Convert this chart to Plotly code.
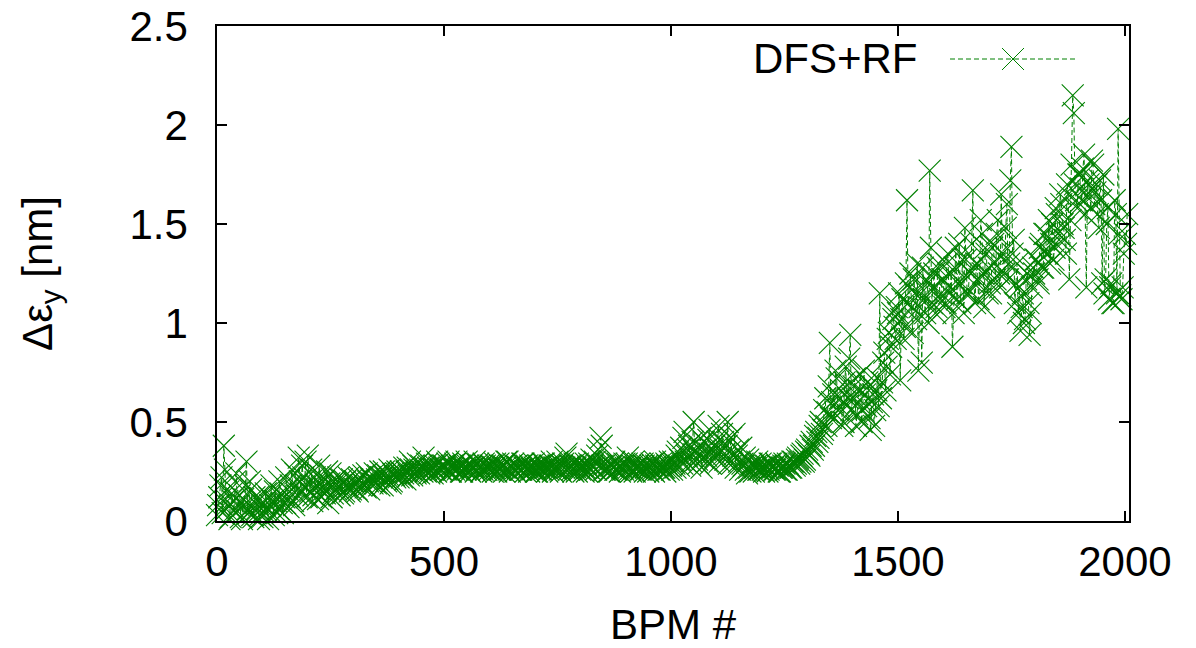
import plotly.graph_objects as go

# BPM spacing of the sampled points; two interleaved samplings (offset half a step)
bpm_step = 5
bpm_offset_b = 2.5

# Emittance growth (nm), sampling A (BPM 0, 5, 10, ...), 20 values per 100 BPMs
dey_a_0000_0495 = [
    0.03, 0.12, 0.22, 0.38, 0.06, 0.15, 0.02, 0.10, 0.20, 0.05, 0.13, 0.01, 0.08, 0.30, 0.04, 0.16, 0.02, 0.09, 0.12, 0.03,
    0.02, 0.08, 0.05, 0.12, 0.18, 0.03, 0.10, 0.06, 0.14, 0.04, 0.09, 0.16, 0.12, 0.26, 0.08, 0.18, 0.32, 0.14, 0.22, 0.30,
    0.33, 0.15, 0.10, 0.22, 0.18, 0.28, 0.12, 0.20, 0.16, 0.09, 0.24, 0.14, 0.19, 0.17, 0.13, 0.21, 0.15, 0.18, 0.22, 0.16,
    0.17, 0.20, 0.15, 0.22, 0.19, 0.18, 0.24, 0.16, 0.21, 0.20, 0.19, 0.23, 0.25, 0.18, 0.22, 0.21, 0.26, 0.20, 0.23, 0.24,
    0.22, 0.25, 0.24, 0.21, 0.27, 0.30, 0.23, 0.26, 0.25, 0.24, 0.28, 0.32, 0.25, 0.27, 0.26, 0.24, 0.28, 0.30, 0.27, 0.26,
]
dey_a_0500_0995 = [
    0.28, 0.26, 0.30, 0.25, 0.27, 0.29, 0.26, 0.28, 0.25, 0.27, 0.30, 0.26, 0.28, 0.27, 0.25, 0.29, 0.27, 0.26, 0.28, 0.27,
    0.26, 0.28, 0.27, 0.25, 0.29, 0.26, 0.28, 0.27, 0.30, 0.25, 0.27, 0.26, 0.28, 0.27, 0.26, 0.29, 0.25, 0.27, 0.28, 0.26,
    0.27, 0.25, 0.28, 0.26, 0.29, 0.27, 0.26, 0.28, 0.25, 0.27, 0.30, 0.26, 0.28, 0.27, 0.34, 0.26, 0.28, 0.25, 0.27, 0.29,
    0.26, 0.28, 0.27, 0.25, 0.29, 0.31, 0.27, 0.26, 0.36, 0.42, 0.28, 0.26, 0.27, 0.25, 0.28, 0.30, 0.26, 0.27, 0.28, 0.26,
    0.27, 0.32, 0.26, 0.28, 0.25, 0.27, 0.29, 0.26, 0.28, 0.27, 0.25, 0.28, 0.26, 0.30, 0.27, 0.26, 0.28, 0.27, 0.29, 0.26,
]
dey_a_1000_1495 = [
    0.28, 0.30, 0.27, 0.35, 0.31, 0.29, 0.45, 0.33, 0.38, 0.30, 0.50, 0.34, 0.29, 0.42, 0.32, 0.36, 0.30, 0.46, 0.34, 0.38,
    0.33, 0.48, 0.36, 0.40, 0.31, 0.50, 0.35, 0.29, 0.44, 0.33, 0.30, 0.37, 0.28, 0.26, 0.31, 0.25, 0.28, 0.27, 0.30, 0.26,
    0.27, 0.25, 0.28, 0.26, 0.29, 0.27, 0.26, 0.28, 0.25, 0.27, 0.29, 0.26, 0.28, 0.27, 0.30, 0.29, 0.32, 0.30, 0.34, 0.31,
    0.36, 0.33, 0.40, 0.38, 0.45, 0.42, 0.50, 0.46, 0.62, 0.55, 0.90, 0.60, 0.52, 0.72, 0.58, 0.66, 0.50, 0.78, 0.62, 0.94,
    0.62, 0.72, 0.54, 0.66, 0.50, 0.76, 0.58, 0.68, 0.46, 0.64, 0.56, 0.72, 1.15, 0.70, 0.85, 0.78, 0.95, 0.88, 1.02, 0.92,
]
dey_a_1500_2005 = [
    1.05, 0.71, 1.12, 0.98, 1.62, 1.18, 1.08, 1.22, 1.02, 0.76, 1.15, 1.28, 1.05, 1.20, 1.77, 1.10, 1.25, 1.08, 1.30, 1.15,
    1.22, 1.10, 1.35, 1.18, 0.88, 1.28, 1.12, 1.40, 1.20, 1.05, 1.32, 1.15, 1.25, 1.67, 1.10, 1.30, 1.22, 1.45, 1.08, 1.35,
    1.28, 1.15, 1.40, 1.22, 1.52, 1.18, 1.35, 1.25, 1.60, 1.30, 1.89, 1.42, 1.20, 1.05, 0.96, 1.15, 1.02, 1.25, 0.94, 1.18,
    1.25, 1.32, 1.20, 1.40, 1.28, 1.45, 1.35, 1.30, 1.50, 1.38, 1.55, 1.42, 1.60, 1.48, 1.35, 1.65, 1.52, 2.15, 1.70, 1.58,
    1.75, 1.62, 1.85, 1.18, 1.70, 1.58, 1.80, 1.66, 1.55, 1.72, 1.20, 1.15, 1.50, 1.12, 1.20, 1.10, 1.55, 1.98, 1.14, 1.18,
    1.45, 1.55,
]

# Sampling B (BPM 2.5, 7.5, 12.5, ...)
dey_b_0000_0495 = [
    0.08, 0.18, 0.04, 0.26, 0.10, 0.01, 0.14, 0.05, 0.24, 0.08, 0.02, 0.11, 0.18, 0.06, 0.20, 0.03, 0.12, 0.06, 0.01, 0.09,
    0.05, 0.14, 0.01, 0.08, 0.10, 0.15, 0.04, 0.20, 0.09, 0.12, 0.22, 0.07, 0.18, 0.10, 0.24, 0.13, 0.20, 0.28, 0.17, 0.12,
    0.20, 0.26, 0.13, 0.18, 0.11, 0.23, 0.17, 0.14, 0.25, 0.19, 0.12, 0.20, 0.16, 0.22, 0.18, 0.14, 0.20, 0.17, 0.15, 0.21,
    0.19, 0.16, 0.21, 0.18, 0.23, 0.17, 0.20, 0.22, 0.19, 0.24, 0.21, 0.18, 0.22, 0.25, 0.20, 0.23, 0.19, 0.24, 0.22, 0.25,
    0.24, 0.22, 0.27, 0.25, 0.23, 0.26, 0.28, 0.24, 0.29, 0.26, 0.25, 0.27, 0.29, 0.24, 0.28, 0.27, 0.25, 0.29, 0.26, 0.28,
]
dey_b_0500_0995 = [
    0.27, 0.29, 0.25, 0.28, 0.26, 0.30, 0.27, 0.25, 0.29, 0.26, 0.28, 0.25, 0.27, 0.30, 0.26, 0.28, 0.25, 0.29, 0.26, 0.28,
    0.28, 0.25, 0.29, 0.27, 0.26, 0.28, 0.25, 0.30, 0.26, 0.28, 0.29, 0.25, 0.27, 0.26, 0.29, 0.27, 0.28, 0.25, 0.27, 0.29,
    0.25, 0.28, 0.26, 0.29, 0.27, 0.25, 0.28, 0.30, 0.27, 0.26, 0.28, 0.25, 0.29, 0.32, 0.27, 0.28, 0.26, 0.29, 0.25, 0.27,
    0.28, 0.25, 0.29, 0.27, 0.26, 0.28, 0.30, 0.33, 0.28, 0.38, 0.26, 0.29, 0.25, 0.28, 0.27, 0.26, 0.29, 0.25, 0.27, 0.29,
    0.29, 0.27, 0.25, 0.30, 0.27, 0.28, 0.26, 0.29, 0.25, 0.28, 0.27, 0.29, 0.25, 0.28, 0.26, 0.29, 0.27, 0.25, 0.28, 0.30,
]
dey_b_1000_1495 = [
    0.26, 0.29, 0.33, 0.28, 0.37, 0.42, 0.30, 0.36, 0.28, 0.40, 0.35, 0.31, 0.38, 0.27, 0.40, 0.33, 0.41, 0.29, 0.36, 0.32,
    0.40, 0.30, 0.44, 0.34, 0.38, 0.29, 0.42, 0.33, 0.27, 0.36, 0.26, 0.29, 0.32, 0.24, 0.27, 0.29, 0.25, 0.28, 0.26, 0.29,
    0.26, 0.28, 0.25, 0.29, 0.27, 0.26, 0.29, 0.25, 0.27, 0.28, 0.26, 0.29, 0.27, 0.30, 0.28, 0.31, 0.29, 0.33, 0.30, 0.35,
    0.34, 0.38, 0.36, 0.43, 0.40, 0.48, 0.44, 0.56, 0.48, 0.68, 0.52, 0.64, 0.76, 0.56, 0.62, 0.48, 0.70, 0.58, 0.82, 0.56,
    0.68, 0.48, 0.60, 0.74, 0.56, 0.64, 0.70, 0.52, 0.60, 0.48, 0.66, 0.58, 0.62, 0.80, 0.66, 0.92, 0.74, 1.05, 0.98, 1.08,
]
dey_b_1500_2005 = [
    1.15, 1.02, 0.92, 1.20, 1.10, 1.25, 0.95, 1.15, 1.30, 1.08, 0.80, 1.12, 1.22, 1.00, 1.38, 1.18, 1.05, 1.28, 1.12, 1.22,
    1.08, 1.30, 1.15, 1.25, 1.05, 1.38, 1.20, 1.10, 1.32, 1.48, 1.15, 1.26, 1.40, 1.20, 1.30, 1.12, 1.52, 1.25, 1.38, 1.15,
    1.20, 1.38, 1.30, 1.45, 1.25, 1.65, 1.32, 1.48, 1.22, 1.72, 1.35, 1.10, 1.30, 1.18, 1.08, 1.00, 1.22, 1.10, 1.05, 1.28,
    1.32, 1.22, 1.38, 1.28, 1.45, 1.35, 1.52, 1.40, 1.32, 1.58, 1.45, 1.65, 1.50, 1.42, 1.70, 1.22, 1.80, 2.06, 1.62, 1.75,
    1.68, 1.78, 1.55, 1.72, 1.65, 1.82, 1.60, 1.70, 1.48, 1.62, 1.75, 1.22, 1.58, 1.18, 1.10, 1.62, 1.15, 1.45, 1.12, 1.35,
    1.40,
]

x_ticks = [0, 500, 1000, 1500, 2000]
y_ticks = [0, 0.5, 1, 1.5, 2, 2.5]
y_tick_text = ["0", "0.5", "1", "1.5", "2", "2.5"]
series_name = "DFS+RF"

dey_a = dey_a_0000_0495 + dey_a_0500_0995 + dey_a_1000_1495 + dey_a_1500_2005
dey_b = dey_b_0000_0495 + dey_b_0500_0995 + dey_b_1000_1495 + dey_b_1500_2005
bpm_a = [i * bpm_step for i in range(len(dey_a))]
bpm_b = [bpm_offset_b + i * bpm_step for i in range(len(dey_b))]
pts = sorted(zip(bpm_a + bpm_b, dey_a + dey_b))
bpm = [p[0] for p in pts]
dey = [p[1] for p in pts]

GREEN = "#008000"
FONT = "Liberation Sans, Arial, Helvetica, sans-serif"

fig = go.Figure()
fig.add_trace(go.Scatter(
    x=bpm, y=dey, mode="lines+markers", name=series_name,
    line=dict(color=GREEN, width=1, dash="5px,3px"),
    marker=dict(symbol="x-thin-open", size=22, color=GREEN,
                line=dict(color=GREEN, width=1.1)),
    cliponaxis=False,
))

# Target plot area in window pixels: x 217..1129, y 26..521
FIG_W, FIG_H = 1196, 648
L, R, T, B = 217, 1129, 26, 521
W, H = R - L, B - T

def px(xp):
    return (xp - L) / W

def py(yp):
    return (B - yp) / H

# Manual gnuplot-style key: text on the left, sample on the right
key_y = 59
fig.add_annotation(x=px(920), y=py(key_y), xref="paper", yref="paper",
                   text=series_name, showarrow=False, xanchor="right",
                   yanchor="middle", font=dict(family=FONT, size=42, color="black"))
fig.add_shape(type="line", xref="paper", yref="paper",
              x0=px(950), x1=px(1077), y0=py(key_y), y1=py(key_y),
              line=dict(color=GREEN, width=1, dash="5px,3px"))
cx, cy, hs = 1013, key_y, 11
fig.add_shape(type="path", xref="paper", yref="paper",
              path=(f"M {px(cx-hs)},{py(cy-hs)} L {px(cx+hs)},{py(cy+hs)} "
                    f"M {px(cx-hs)},{py(cy+hs)} L {px(cx+hs)},{py(cy-hs)}"),
              line=dict(color=GREEN, width=1))

axis_common = dict(
    showline=True, linecolor="black", linewidth=1.5, mirror="allticks",
    ticks="inside", ticklen=10, tickwidth=1.5, tickcolor="black",
    showgrid=False, zeroline=False, automargin=False,
    ticklabeloverflow="allow",
    tickfont=dict(family=FONT, size=42, color="black"),
)

fig.update_layout(
    width=FIG_W, height=FIG_H,
    margin=dict(l=L, r=FIG_W - R, t=T, b=FIG_H - B),
    plot_bgcolor="white", paper_bgcolor="white",
    showlegend=False,
    font=dict(family=FONT, size=42, color="black"),
    xaxis=dict(range=[0, 2009], tickvals=x_ticks, ticklabelstandoff=3,
               title=dict(text="BPM #", font=dict(family=FONT, size=42), standoff=26),
               **axis_common),
    yaxis=dict(range=[0, 2.5], tickvals=y_ticks, ticktext=y_tick_text,
               ticklabelstandoff=19,
               title=dict(text="Δε<sub>y</sub> [nm]", font=dict(family=FONT, size=42), standoff=64),
               **axis_common),
)

# remove the default 8 px page margin so the figure fills the window exactly
fig.write_html("out.html",
               config={"displayModeBar": False},
               post_script="document.body.style.margin='0';document.body.style.overflow='hidden';")
